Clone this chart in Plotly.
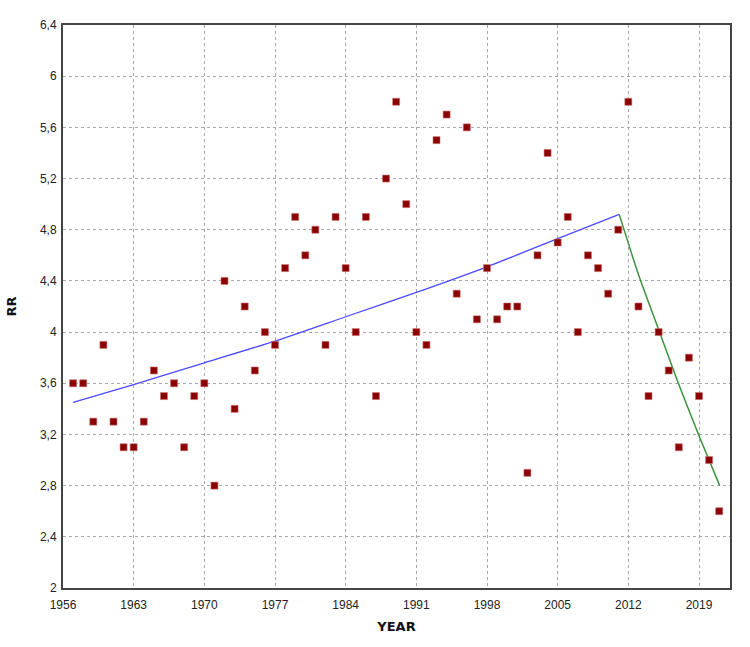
import plotly.graph_objects as go

years = list(range(1957, 2022))
rr = [3.6, 3.6, 3.3, 3.9, 3.3, 3.1, 3.1, 3.3, 3.7, 3.5,
      3.6, 3.1, 3.5, 3.6, 2.8, 4.4, 3.4, 4.2, 3.7, 4.0,
      3.9, 4.5, 4.9, 4.6, 4.8, 3.9, 4.9, 4.5, 4.0, 4.9,
      3.5, 5.2, 5.8, 5.0, 4.0, 3.9, 5.5, 5.7, 4.3, 5.6,
      4.1, 4.5, 4.1, 4.2, 4.2, 2.9, 4.6, 5.4, 4.7, 4.9,
      4.0, 4.6, 4.5, 4.3, 4.8, 5.8, 4.2, 3.5, 4.0, 3.7,
      3.1, 3.8, 3.5, 3.0, 2.6]

# trend lines
trend1_years = [1957, 1963, 1970, 1977, 1984, 1991, 1998, 2005, 2011.1]
trend1_vals = [3.45, 3.59, 3.76, 3.93, 4.12, 4.31, 4.51, 4.73, 4.92]
trend2_years = [2011.1, 2013, 2015, 2017, 2019, 2021.05]
trend2_vals = [4.92, 4.45, 4.02, 3.59, 3.19, 2.80]

x_ticks = list(range(1956, 2020, 7))
y_ticks = [2.0, 2.4, 2.8, 3.2, 3.6, 4.0, 4.4, 4.8, 5.2, 5.6, 6.0, 6.4]
y_ticktext = [("%g" % v).replace(".", ",") for v in y_ticks]

fig = go.Figure()
fig.add_trace(go.Scatter(x=trend1_years, y=trend1_vals, mode="lines",
                         line=dict(color="#4a4aff", width=1.3, shape="spline", smoothing=0.6),
                         showlegend=False, hoverinfo="skip"))
fig.add_trace(go.Scatter(x=trend2_years, y=trend2_vals, mode="lines",
                         line=dict(color="#3c943c", width=1.5, shape="spline", smoothing=0.6),
                         showlegend=False, hoverinfo="skip"))
fig.add_trace(go.Scatter(x=years, y=rr, mode="markers",
                         marker=dict(symbol="square", size=7, color="#8b0000",
                                     line=dict(width=0.6, color="#c87070")),
                         showlegend=False))

axis_common = dict(showgrid=True, gridcolor="#a8a8a8", griddash="dot", gridwidth=1,
                   showline=True, linecolor="#444444", linewidth=2, mirror=True,
                   zeroline=False, ticks="",
                   tickfont=dict(family="Liberation Sans, Arial, sans-serif", size=12, color="#222222"))

fig.update_layout(
    width=750, height=647,
    margin=dict(l=63, r=20, t=25, b=59),
    plot_bgcolor="white", paper_bgcolor="white",
    xaxis=dict(range=[1956, 2022.07], tickvals=x_ticks, ticktext=[str(v) for v in x_ticks],
               ticklabelstandoff=5,
               title=dict(text="<b>YEAR</b>", standoff=10,
                          font=dict(family="DejaVu Sans, sans-serif", size=13, color="#111111")),
               **axis_common),
    yaxis=dict(range=[2, 6.4], tickvals=y_ticks, ticktext=y_ticktext,
               ticklabelstandoff=2,
               title=dict(text="<b>RR</b>", standoff=20,
                          font=dict(family="DejaVu Sans, sans-serif", size=13, color="#111111")),
               **axis_common),
)

fig.write_html("out.html")
